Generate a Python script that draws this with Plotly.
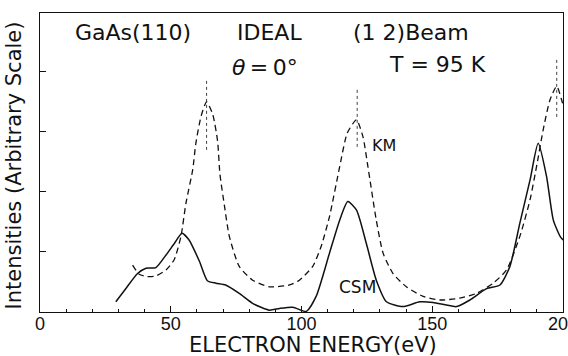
import plotly.graph_objects as go

# ---- data ----
energy_csm = [29, 33, 37.3, 40.5, 44.3, 48.2, 51.5, 54.3, 57, 61, 64, 67.3, 71, 76.2, 81.3, 87.7,
              91.6, 96.7, 101.8, 105.6, 110.7, 114.6, 117.7, 121, 124.8, 128.6, 132.5, 138.8,
              145.2, 150.3, 155, 159.3, 164.4, 170.8, 175.9, 179.7, 183.5, 187.4, 190.5, 193.7,
              196.3, 198.9, 200]
intensity_csm = [0.17, 0.4, 0.64, 0.73, 0.74, 0.95, 1.15, 1.31, 1.2, 0.84, 0.52, 0.48, 0.45, 0.31,
                 0.145, 0.03, 0.06, 0.08, 0.01, 0.26, 0.98, 1.53, 1.84, 1.70, 1.14, 0.53, 0.17,
                 0.09, 0.17, 0.16, 0.12, 0.09, 0.2, 0.39, 0.45, 0.76, 1.48, 2.2, 2.81, 2.26, 1.53,
                 1.26, 1.2]

energy_km = [35.4, 37.9, 41.1, 44.3, 48.2, 51.3, 53.9, 55.8, 58.4, 59.6, 61.6, 63.7, 66, 67.9,
             68.8, 70.5, 72.4, 76.2, 81.3, 87.7, 95.4, 99.2, 104.3, 107.5, 110.7, 114.6, 117.5,
             121, 123.5, 125.4, 128.6, 131.2, 135, 140.1, 146.5, 152.9, 160.5, 166.9, 173.3,
             178.4, 183.5, 187.4, 190, 192.4, 195, 197.6, 199.5, 200]
intensity_km = [0.78, 0.63, 0.59, 0.6, 0.7, 0.87, 1.26, 1.81, 2.37, 2.81, 3.26, 3.5, 3.3, 2.85,
                2.3, 1.78, 1.26, 0.76, 0.53, 0.42, 0.45, 0.53, 0.76, 1.09, 1.59, 2.42, 2.98,
                3.2, 2.92, 2.42, 1.53, 0.98, 0.64, 0.42, 0.26, 0.2, 0.23, 0.31, 0.48, 0.7, 1.26,
                1.87, 2.45, 3.03, 3.53, 3.76, 3.53, 3.45]

marker_energy = [63.7, 121.3, 197.6]
marker_top = [3.9, 3.7, 4.2]
marker_bottom = [2.7, 2.75, 3.25]

x_tick_values = [0, 50, 100, 150, 200]
x_tick_labels = ["0", "50", "100", "150", "200"]
y_tick_values = [1, 2, 3, 4]

INK = "#111111"
FONT = "DejaVu Sans"

fig = go.Figure()

# peak marker lines
for e, top, bot in zip(marker_energy, marker_top, marker_bottom):
    fig.add_trace(go.Scatter(x=[e, e], y=[bot, top], mode="lines",
                             line=dict(color=INK, width=0.8, dash="3px,3px"),
                             hoverinfo="skip", showlegend=False))

fig.add_trace(go.Scatter(x=energy_km, y=intensity_km, mode="lines", name="KM",
                         line=dict(color=INK, width=1.3, dash="6px,4px", shape="spline", smoothing=0.6),
                         showlegend=False))
fig.add_trace(go.Scatter(x=energy_csm, y=intensity_csm, mode="lines", name="CSM",
                         line=dict(color=INK, width=1.5, shape="spline", smoothing=0.6),
                         showlegend=False))

def txt(x, y, s, size=22, xref="x", yref="y", family=FONT, angle=0):
    fig.add_annotation(x=x, y=y, xref=xref, yref=yref, text=s, showarrow=False,
                       font=dict(family=family, size=size, color=INK), textangle=angle,
                       xanchor="center", yanchor="middle")

txt(35.6, 4.65, "GaAs(110)")
txt(87.7, 4.65, "IDEAL")
txt(141.8, 4.65, "(1 2)Beam")
txt(86.2, 4.08, "<i>θ</i>\u2009=\u20090°")
txt(152.1, 4.13, "T = 95 K")
txt(131.5, 2.78, "KM", size=16)
txt(121.3, 0.42, "CSM", size=17)

# axis titles
txt(0.522, -0.112, "ELECTRON ENERGY(eV)", size=21, xref="paper", yref="paper")
txt(-0.048, 0.49, "Intensities (Arbitrary Scale)", size=21, xref="paper", yref="paper", angle=-90)

fig.update_layout(
    width=568, height=356,
    margin=dict(l=40, r=5, t=13, b=44, autoexpand=False),
    paper_bgcolor="white", plot_bgcolor="white",
    font=dict(family=FONT, color=INK),
)
fig.update_xaxes(range=[0, 200], showgrid=False, zeroline=False, automargin=False,
                 showline=True, linecolor=INK, linewidth=1.2, mirror=True,
                 tickmode="array", tickvals=x_tick_values, ticktext=x_tick_labels,
                 ticks="inside", ticklen=6, tickwidth=1, tickcolor=INK,
                 ticklabeloverflow="allow", ticklabelstandoff=-5,
                 tickfont=dict(family="Liberation Sans", size=18, color=INK),
                 minor=dict(dtick=10, ticks="inside", ticklen=3, tickwidth=1, tickcolor=INK))
fig.update_yaxes(range=[0, 4.98], showgrid=False, zeroline=False, automargin=False,
                 showline=True, linecolor=INK, linewidth=1.2, mirror=True,
                 tickmode="array", tickvals=y_tick_values, showticklabels=False,
                 ticks="inside", ticklen=6, tickwidth=1, tickcolor=INK)

fig.write_html("out.html", config={"displayModeBar": False},
               post_script="document.body.style.margin='0';document.body.style.overflow='hidden';")
